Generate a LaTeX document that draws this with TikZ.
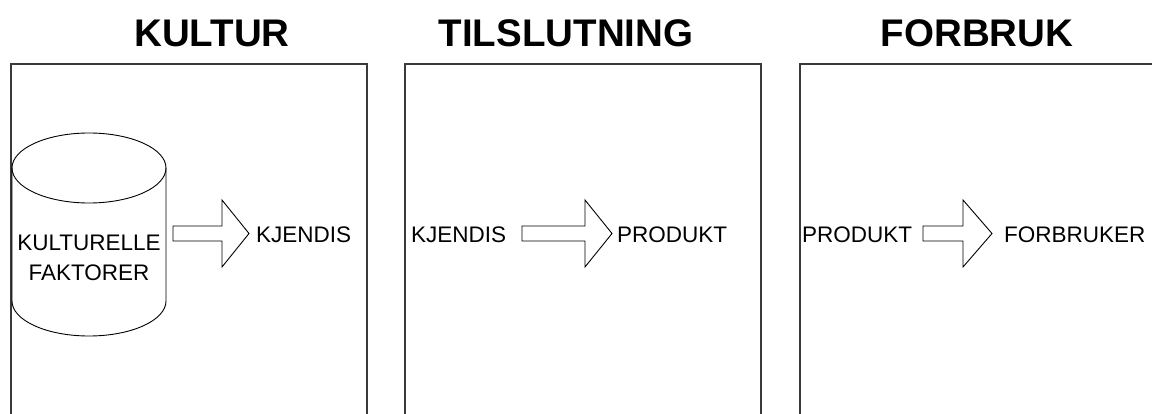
\documentclass[tikz,border=0pt]{standalone}
\usepackage{fontspec}
\setmainfont{Liberation Sans}
\definecolor{frame}{HTML}{3A3A3A}
\tikzset{
  x=1pt, y=-1pt,
  panel/.style={draw=frame, line width=1.3pt},
  title/.style={font=\fontsize{38.5}{40}\selectfont\bfseries, inner sep=0pt},
  lbl/.style={font=\fontsize{22.5}{30}\selectfont, inner sep=0pt, align=center},
  blockarrow/.style={draw=black, line width=0.9pt, fill=white, line join=miter},
  cyl/.style={draw=black, line width=0.9pt}
}
\newcommand{\barrow}[4]{% name, tail x, head base x, tip x
  \draw[blockarrow] (#2,226) -- (#3,226) -- (#3,200) -- (#4,233.5) -- (#3,267) -- (#3,241) -- (#2,241) -- cycle;
  \coordinate (#1tail) at (#2,233.5);
  \coordinate (#1tip) at (#4,233.5);
}
\begin{document}
\begin{tikzpicture}
\useasboundingbox (0,0) rectangle (1152,414);
\clip (0,0) rectangle (1152,414);
\fill[white] (0,0) rectangle (1152,414);

% panels
\draw[panel] (11,64) rectangle (367,440);
\draw[panel] (405,64) rectangle (761,440);
\draw[panel] (800,64) rectangle (1170,440);

% titles
\node[title] (t1) at (212,33) {KULTUR};
\node[title] (t2) at (566,33) {TILSLUTNING};
\node[title] (t3) at (977,33) {FORBRUK};

% cylinder
\draw[cyl] (12,168) -- (12,301) arc[start angle=180, end angle=0, x radius=77, y radius=35] -- (166,168);
\draw[cyl] (89,168) ellipse [x radius=77, y radius=35];
\node[lbl] (kf) at (89,258) {KULTURELLE\\FAKTORER};

% panel 1
\barrow{a1}{173}{222}{249}
\node[lbl, anchor=west] (k1) at (256,235) {KJENDIS};

% panel 2
\node[lbl, anchor=west] (k2) at (411,235) {KJENDIS};
\barrow{a2}{522}{585}{612}
\node[lbl, anchor=west] (p2) at (617,235) {PRODUKT};

% panel 3
\node[lbl, anchor=west] (p3) at (802,235) {PRODUKT};
\barrow{a3}{923}{963}{992}
\node[lbl, anchor=west] (f3) at (1004,235) {FORBRUKER};
\end{tikzpicture}
\end{document}
